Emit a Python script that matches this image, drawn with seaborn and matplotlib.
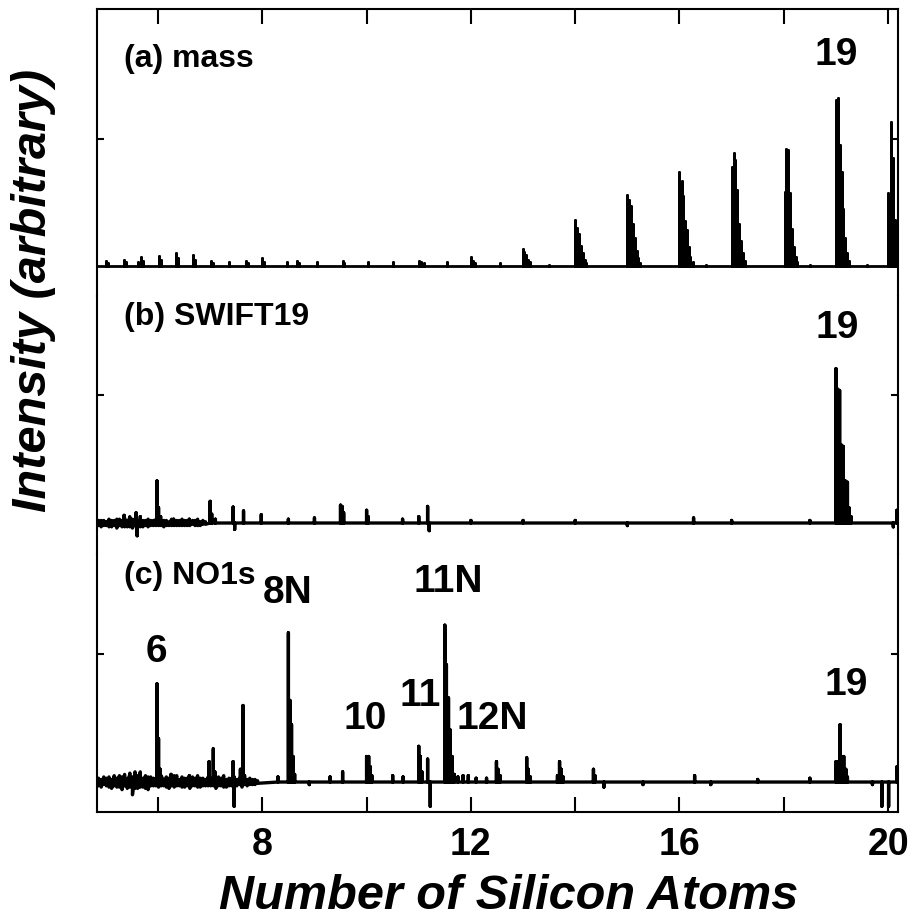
import numpy as np
import pandas as pd
import seaborn as sns
import matplotlib.pyplot as plt

# stick spectra: x = number of Si atoms, y = intensity (tick = 1)
mass_x = [5.01, 5.04, 5.35, 5.38, 5.62, 5.68, 5.71, 6.02, 6.05, 6.35, 6.38, 6.68, 6.71,
          7.02, 7.05, 7.37, 7.69, 7.72, 8.00, 8.03, 8.48, 8.67, 8.70, 9.04, 9.54, 9.57,
          10.02, 10.51, 11.01, 11.04, 11.10, 11.55, 12.01, 12.04, 12.07, 12.55,
          12.99, 13.02, 13.06, 13.09, 13.13, 13.50,
          14.00, 14.04, 14.07, 14.11, 14.14, 14.18, 14.21,
          15.00, 15.04, 15.07, 15.11, 15.14, 15.18, 15.21, 15.25,
          16.00, 16.04, 16.07, 16.11, 16.14, 16.18, 16.21, 16.25, 16.50,
          17.00, 17.04, 17.07, 17.11, 17.14, 17.18, 17.21, 17.25,
          18.02, 18.05, 18.09, 18.12, 18.16, 18.19, 18.23, 18.26, 18.50,
          19.00, 19.04, 19.07, 19.11, 19.14, 19.18, 19.21, 19.25, 19.60,
          20.00, 20.05, 20.09, 20.14, 20.18]
mass_y = [0.04, 0.02, 0.05, 0.03, 0.03, 0.07, 0.04, 0.08, 0.05, 0.10, 0.06, 0.09, 0.05,
          0.04, 0.02, 0.03, 0.04, 0.02, 0.06, 0.03, 0.03, 0.04, 0.02, 0.03, 0.04, 0.02,
          0.03, 0.03, 0.04, 0.03, 0.02, 0.03, 0.07, 0.04, 0.02, 0.02,
          0.13, 0.11, 0.09, 0.05, 0.03, 0.01,
          0.36, 0.30, 0.25, 0.16, 0.10, 0.05, 0.02,
          0.56, 0.52, 0.47, 0.33, 0.22, 0.12, 0.06, 0.02,
          0.74, 0.67, 0.55, 0.35, 0.28, 0.15, 0.07, 0.03, 0.01,
          0.78, 0.89, 0.83, 0.60, 0.33, 0.20, 0.10, 0.04,
          0.58, 0.92, 0.91, 0.57, 0.29, 0.15, 0.07, 0.03, 0.01,
          1.30, 1.32, 0.95, 0.74, 0.45, 0.22, 0.10, 0.04, 0.01,
          0.57, 1.13, 0.85, 0.36, 0.20]

swift_x = [5.35, 5.58, 5.60, 5.66, 5.98, 6.01, 6.05, 6.30, 6.60, 7.00, 7.03, 7.10,
           7.44, 7.47, 7.64, 7.98, 8.50, 9.00, 9.50, 9.53, 9.56, 10.00, 10.03, 10.69,
           11.00, 11.17, 11.20, 12.00, 13.00, 14.00, 15.00, 16.27, 17.00, 18.50,
           19.00, 19.03, 19.07, 19.11, 19.14, 19.18, 19.22, 19.25, 19.29,
           20.10, 20.17]
swift_y = [0.06, 0.08, -0.10, 0.05, 0.33, 0.12, 0.05, 0.03, 0.03, 0.17, 0.07, 0.03,
           0.125, -0.05, 0.095, 0.065, 0.03, 0.04, 0.14, 0.13, 0.08, 0.10, 0.05, 0.03,
           0.05, 0.13, -0.06, 0.02, 0.02, 0.02, -0.02, 0.04, 0.02, 0.02,
           1.21, 1.05, 1.04, 0.61, 0.60, 0.33, 0.32, 0.12, 0.05,
           -0.03, 0.10]
# baseline ripple on the low-mass side of (b): upper / lower excursion every 0.05 from 4.86
swift_noise_hi = [0.02, 0.02, 0.02, 0.01, 0.03, 0.02, 0.02, 0.03, 0.03, 0.02, 0.04, 0.02,
                  0.05, 0.03, 0.03, 0.02, 0.04, 0.02, 0.02, 0.03, 0.02, 0.02, 0.03, 0.02,
                  0.02, 0.02, 0.02, 0.01, 0.03, 0.02, 0.02, 0.02, 0.03, 0.02, 0.02, 0.01,
                  0.02, 0.02, 0.03, 0.01, 0.02, 0.01]
swift_noise_lo = [-0.02, -0.03, -0.02, -0.02, -0.03, -0.03, -0.02, -0.04, -0.02, -0.03,
                  -0.03, -0.03, -0.03, -0.04, -0.02, -0.03, -0.03, -0.03, -0.02, -0.03,
                  -0.02, -0.02, -0.02, -0.02, -0.02, -0.03, -0.02, -0.02, -0.02, -0.02,
                  -0.02, -0.02, -0.02, -0.02, -0.02, -0.02, -0.01, -0.02, -0.02, -0.02,
                  -0.01, -0.01]

no1s_x = [5.98, 6.01, 6.04, 6.07, 6.25, 6.60, 6.98, 7.06, 7.09, 7.44, 7.46, 7.58, 7.63,
          7.66, 8.30, 8.50, 8.53, 8.56, 8.59, 8.62, 8.90, 9.30, 9.54,
          10.00, 10.04, 10.07, 10.10, 10.50, 10.70, 11.00, 11.03, 11.06, 11.17, 11.22,
          11.50, 11.53, 11.57, 11.60, 11.64, 11.68, 11.75, 11.85, 11.95, 12.10, 12.30,
          12.49, 12.52, 12.56, 13.07, 13.10, 13.14, 13.66, 13.70, 13.73, 13.77,
          14.35, 14.38, 14.55, 15.30, 16.29, 16.60, 17.50, 18.50,
          19.00, 19.04, 19.08, 19.11, 19.15, 19.19, 19.22, 19.70,
          19.88, 20.01, 20.17]
no1s_y = [0.77, 0.34, 0.10, 0.04, 0.06, 0.05, 0.16, 0.26, 0.08, 0.16, -0.19, 0.10, 0.60,
          0.05, 0.04, 1.17, 0.64, 0.45, 0.20, 0.06, -0.02, 0.04, 0.08,
          0.20, 0.20, 0.12, 0.05, 0.05, 0.04, 0.28, 0.20, 0.08, 0.18, -0.19,
          1.23, 0.92, 0.66, 0.41, 0.20, 0.06, 0.04, 0.05, 0.05, 0.03, 0.03,
          0.16, 0.10, 0.05, 0.19, 0.10, 0.04, 0.05, 0.16, 0.10, 0.04,
          0.10, 0.05, -0.04, -0.02, 0.05, -0.02, 0.02, 0.03,
          0.16, 0.16, 0.45, 0.20, 0.20, 0.10, 0.04, -0.02,
          -0.19, -0.19, 0.12]
# baseline ripple on the low-mass side of (c): upper / lower excursion every 0.05 from 4.86
no1s_noise_hi = [0.03, 0.02, 0.04, 0.03, 0.04, 0.02, 0.05, 0.03, 0.05, 0.04, 0.06, 0.03,
                 0.07, 0.04, 0.08, 0.05, 0.08, 0.03, 0.05, 0.04, 0.04, 0.03, 0.03, 0.04,
                 0.05, 0.02, 0.04, 0.03, 0.03, 0.05, 0.05, 0.02, 0.04, 0.03, 0.03, 0.02,
                 0.04, 0.03, 0.05, 0.03, 0.03, 0.02, 0.04, 0.03, 0.03, 0.02, 0.04, 0.03,
                 0.05, 0.02, 0.03, 0.03, 0.04, 0.02, 0.03, 0.02, 0.03, 0.02, 0.03, 0.02,
                 0.02, 0.01]
no1s_noise_lo = [-0.03, -0.04, -0.02, -0.03, -0.04, -0.05, -0.03, -0.04, -0.04, -0.06,
                 -0.03, -0.05, -0.04, -0.10, -0.05, -0.05, -0.04, -0.04, -0.05, -0.06,
                 -0.03, -0.03, -0.03, -0.04, -0.03, -0.03, -0.04, -0.05, -0.03, -0.04,
                 -0.03, -0.03, -0.04, -0.04, -0.03, -0.05, -0.03, -0.03, -0.04, -0.04,
                 -0.03, -0.03, -0.03, -0.03, -0.03, -0.05, -0.03, -0.03, -0.04, -0.04,
                 -0.03, -0.03, -0.03, -0.03, -0.02, -0.04, -0.02, -0.03, -0.02, -0.02,
                 -0.02, -0.01]

x_ticks = [6, 8, 10, 12, 14, 16, 18, 20]
x_labels = ["", "8", "", "12", "", "16", "", "20"]
x_lo, x_hi = 4.83, 20.19


def build_trace(xs, ys, noise_hi=(), noise_lo=()):
    # sticks rise from and fall back to the baseline; ripple samples swing hi -> lo
    pts = [(x, [0.0, y, 0.0]) for x, y in zip(xs, ys)]
    grid = np.round(4.86 + 0.05 * np.arange(len(noise_hi)), 2)
    pts += [(x, [hi, lo]) for x, hi, lo in zip(grid, noise_hi, noise_lo)]
    pts.sort(key=lambda p: p[0])
    tx, ty = [x_lo], [0.0]
    for x, seq in pts:
        tx += [x] * len(seq)
        ty += seq
    tx.append(x_hi)
    ty.append(0.0)
    return pd.DataFrame({"x": tx, "y": ty})


sns.set_style("ticks")
plt.rcParams["font.family"] = ["Liberation Sans", "DejaVu Sans"]
plt.rcParams["font.weight"] = "bold"
for k in ["text.color", "axes.labelcolor", "xtick.color", "ytick.color", "axes.edgecolor"]:
    plt.rcParams[k] = "black"

fig = plt.figure(figsize=(9.12, 9.2), dpi=100)
gs = fig.add_gridspec(3, 1, height_ratios=[287, 258, 258], hspace=0,
                      left=97 / 912, right=898 / 912, top=1 - 10 / 920, bottom=1 - 813 / 920)
axes = [fig.add_subplot(gs[i]) for i in range(3)]

panels = [(build_trace(mass_x, mass_y), (-0.235, 2.016), 2.0),
          (build_trace(swift_x, swift_y, swift_noise_hi, swift_noise_lo), (-0.243, 1.78), 2.4),
          (build_trace(no1s_x, no1s_y, no1s_noise_hi, no1s_noise_lo), (-0.235, 1.788), 2.4)]

for i, (ax, (tr, ylim, lw)) in enumerate(zip(axes, panels)):
    sns.lineplot(data=tr, x="x", y="y", ax=ax, color="black", lw=lw,
                 sort=False, estimator=None)
    ax.set_xlim(x_lo, x_hi)
    ax.set_ylim(*ylim)
    ax.set_yticks([1])
    ax.set_yticklabels([])
    ax.set_xticks(x_ticks)
    ax.set_xlabel("")
    ax.set_ylabel("")
    ax.tick_params(axis="y", direction="in", left=True, right=True, length=5, width=1.5)
    ax.tick_params(axis="x", direction="in", length=11, width=1.5,
                   top=(i == 0), bottom=(i == 2), labelbottom=(i == 2), labelsize=27, pad=10)
    for s in ax.spines.values():
        s.set_linewidth(1.5)
        s.set_color("black")
    if i > 0:
        ax.spines["top"].set_visible(False)
    if i < 2:
        ax.spines["bottom"].set_visible(False)

axes[2].set_xticklabels(x_labels, fontweight="bold")

lab = dict(fontsize=23, fontweight="bold", ha="left", va="center")
pk = dict(fontsize=28, fontweight="bold", ha="center", va="center")

axes[0].text(5.35, 1.63, "(a) mass", **lab)
axes[0].text(19.0, 1.66, "19", **pk)

axes[1].text(5.35, 1.62, "(b) SWIFT19", **lab)
axes[1].text(19.02, 1.54, "19", **pk)

axes[2].text(5.35, 1.62, "(c) NO1s", **lab)
axes[2].text(8.48, 1.49, "8N", **pk)
axes[2].text(11.57, 1.58, "11N", **pk)
axes[2].text(5.97, 1.03, "6", **pk)
axes[2].text(9.98, 0.50, "10", **pk)
axes[2].text(11.03, 0.68, "11", **pk)
axes[2].text(12.40, 0.50, "12N", **pk)
axes[2].text(19.20, 0.77, "19", **pk)

fig.text(509 / 912, 1 / 920, "Number of Silicon Atoms", fontsize=35, fontweight="bold",
         fontstyle="italic", ha="center", va="bottom")
fig.text(34 / 912, 1 - 290 / 920, "Intensity (arbitrary)", fontsize=35, fontweight="bold",
         fontstyle="italic", ha="center", va="center", rotation=90)

plt.savefig("out.png", dpi=100)
